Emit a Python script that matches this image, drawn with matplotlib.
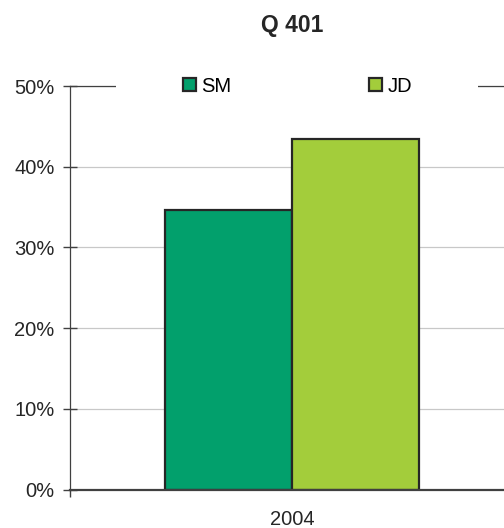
import matplotlib
matplotlib.use("Agg")
import matplotlib.pyplot as plt
from matplotlib.patches import Patch
from matplotlib.ticker import FuncFormatter

plt.rcParams["font.family"] = ["Liberation Sans", "DejaVu Sans"]

years = ["2004"]
series = ["SM", "JD"]
values = [34.6, 43.4]
colors = ["#02a06c", "#a3cd3b"]
title = "Q 401"

fig = plt.figure(figsize=(5.04, 5.28), dpi=100)
ax = fig.add_axes([70 / 504, 1 - 489.6 / 528, 444 / 504, (489.6 - 86) / 528])

bar_w = 0.286
offsets = [-bar_w / 2, bar_w / 2]
for name, val, col, off in zip(series, values, colors, offsets):
    ax.bar(0 + off, val, width=bar_w, color=col, edgecolor="#262626",
           linewidth=1.6, zorder=3, label=name)

ax.set_xlim(-0.5, 0.5)
ax.set_ylim(0, 50)
ax.set_yticks([0, 10, 20, 30, 40, 50])
ax.yaxis.set_major_formatter(FuncFormatter(lambda v, p: f"{v:.0f}%"))
ax.tick_params(axis="y", direction="inout", length=10, width=1, color="#404040",
               labelsize=14.5, labelcolor="#262626", pad=6)

ax.set_xticks([0], years)
ax.set_xticks([-0.5, 0.5], minor=True)
ax.tick_params(axis="x", which="major", length=0, labelsize=14.5,
               labelcolor="#262626", pad=15)
ax.tick_params(axis="x", which="minor", direction="out", length=5, width=1,
               color="#404040")

ax.grid(axis="y", color="#c8c8c8", linewidth=0.9)
ax.set_axisbelow(True)
for s in ["left", "top", "right"]:
    ax.spines[s].set_color("#404040")
    ax.spines[s].set_linewidth(0.9)
ax.spines["bottom"].set_color("#404040")
ax.spines["bottom"].set_linewidth(1.6)
ax.spines["bottom"].set_zorder(4)

# opaque legend box sits on the top frame line and interrupts it
handles = [Patch(facecolor=c, edgecolor="#262626", linewidth=1.6) for c in colors]
leg = ax.legend(handles, series, loc="center", bbox_to_anchor=(0.512, 1.0),
                ncol=2, frameon=True, fancybox=False, framealpha=1.0,
                fontsize=14.5, handlelength=0.65, handleheight=0.65,
                handletextpad=0.28, columnspacing=6.8, borderpad=3.3,
                borderaxespad=0)
leg.get_frame().set_facecolor("white")
leg.get_frame().set_edgecolor("none")
leg.set_zorder(2.6)

ax.set_title(title, fontsize=16.5, fontweight="bold", color="#262626", pad=39)

fig.savefig("out.png", dpi=100)
